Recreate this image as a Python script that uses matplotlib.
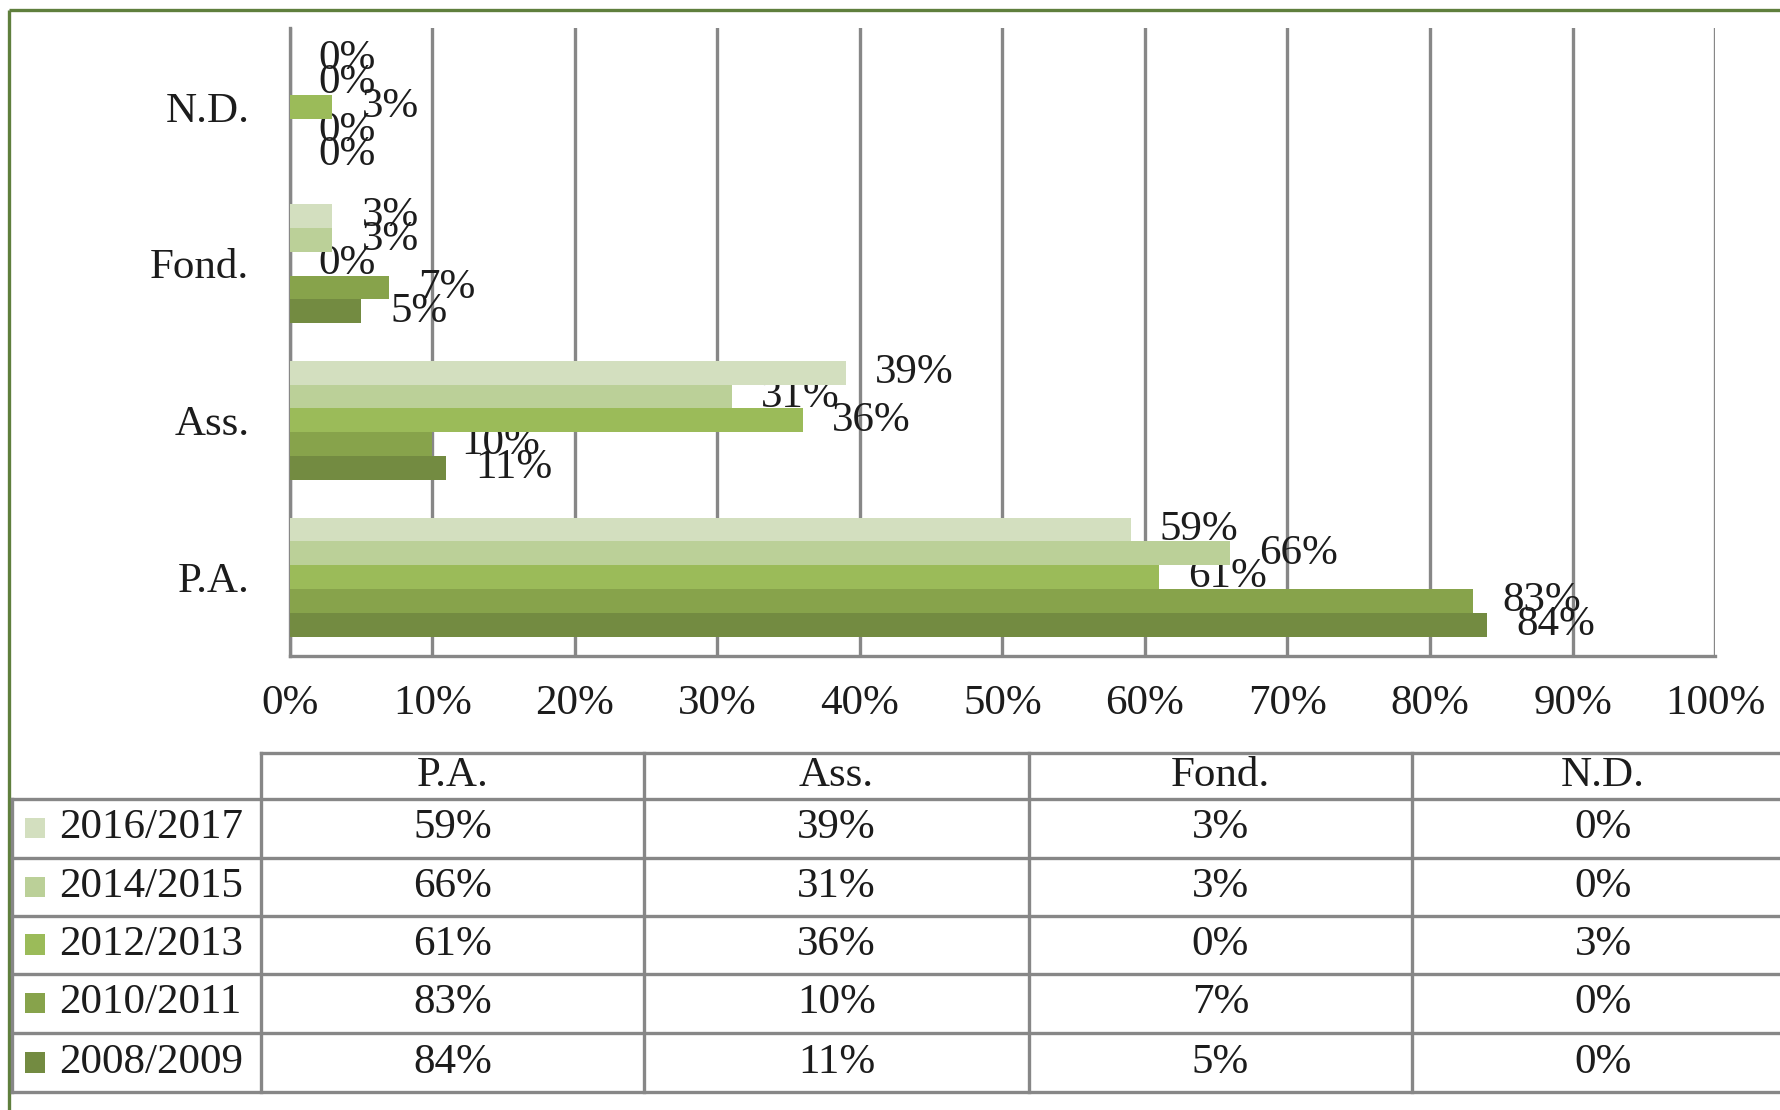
import numpy as np
import matplotlib.pyplot as plt

plt.rcParams['font.family'] = ['Liberation Serif', 'DejaVu Serif']

# data
categories = ['P.A.', 'Ass.', 'Fond.', 'N.D.']
years = ['2016/2017', '2014/2015', '2012/2013', '2010/2011', '2008/2009']
values = {
    '2016/2017': [59, 39, 3, 0],
    '2014/2015': [66, 31, 3, 0],
    '2012/2013': [61, 36, 0, 3],
    '2010/2011': [83, 10, 7, 0],
    '2008/2009': [84, 11, 5, 0],
}
colors = ['#d3dfbf', '#bbd098', '#9bbb59', '#87a34b', '#738b41']
xticks = np.arange(0, 101, 10)

# layout is worked out in a 1568x977 reference frame
W, H = 1568, 977
FS = 31
grey = '#878787'
txt = '#1c1c1c'

fig = plt.figure(figsize=(17.81, 11.10), dpi=100)

# overlay axes in reference pixel coords (frame + table)
bg = fig.add_axes([0, 0, 1, 1], zorder=0)
bg.set_xlim(0, W)
bg.set_ylim(H, 0)
bg.axis('off')

ax = fig.add_axes([255 / W, 1 - 577 / H, (1510 - 255) / W, (577 - 25) / H], zorder=1)

h = 21 / 138
y0 = np.arange(len(categories))
for i, yr in enumerate(years):
    y = y0 + (2 - i) * h
    vals = values[yr]
    ax.barh(y, vals, height=h, color=colors[i], zorder=3, linewidth=0)
    for yy, v in zip(y, vals):
        ax.annotate(f'{v}%', xy=(v, yy), xytext=(21, 0), textcoords='offset points',
                    ha='left', va='center', fontsize=FS, color=txt, zorder=2)

ax.set_xlim(0, 100)
ax.set_ylim(-0.5, len(categories) - 0.5)
ax.set_xticks(xticks)
ax.set_xticklabels([f'{t}%' for t in xticks])
ax.set_yticks(y0)
ax.set_yticklabels(categories)
ax.tick_params(axis='x', length=0, pad=21, labelsize=FS, labelcolor=txt)
ax.tick_params(axis='y', length=0, pad=29, labelsize=FS, labelcolor=txt)
ax.grid(axis='x', color=grey, linewidth=2.4, zorder=1)
ax.set_axisbelow(True)
for s in ['top', 'right']:
    ax.spines[s].set_visible(False)
for s in ['left', 'bottom']:
    ax.spines[s].set_color(grey)
    ax.spines[s].set_linewidth(2.4)
ax.set_facecolor('none')

# green frame
frame = '#5f7f3d'
bg.plot([8, W + 5], [9, 9], color=frame, lw=2.4, solid_capstyle='butt')
bg.plot([8, 8], [9, H + 5], color=frame, lw=2.4, solid_capstyle='butt')

# table
col_x = [11, 230, 567, 906, 1243, 1580]
row_y = [663, 703, 755, 806, 857, 909, 961]
lw = 2.4
bg.plot([col_x[1], W + 5], [row_y[0]] * 2, color=grey, lw=lw)
for yy in row_y[1:]:
    bg.plot([col_x[0], W + 5], [yy, yy], color=grey, lw=lw)
bg.plot([col_x[0]] * 2, [row_y[1], row_y[-1]], color=grey, lw=lw)
for xx in col_x[1:]:
    bg.plot([xx, xx], [row_y[0], row_y[-1]], color=grey, lw=lw)

for j, cat in enumerate(categories):
    cx = (col_x[j + 1] + col_x[j + 2]) / 2
    bg.text(cx, (row_y[0] + row_y[1]) / 2, cat, ha='center', va='center',
            fontsize=FS, color=txt)
for i, yr in enumerate(years):
    cy = (row_y[i + 1] + row_y[i + 2]) / 2
    bg.add_patch(plt.Rectangle((22, cy - 9), 18, 18, color=colors[i], lw=0))
    bg.text(52, cy, yr, ha='left', va='center', fontsize=FS, color=txt)
    for j, v in enumerate(values[yr]):
        cx = (col_x[j + 1] + col_x[j + 2]) / 2
        bg.text(cx, cy, f'{v}%', ha='center', va='center', fontsize=FS, color=txt)

fig.savefig('out.png', dpi=100, facecolor='white')
